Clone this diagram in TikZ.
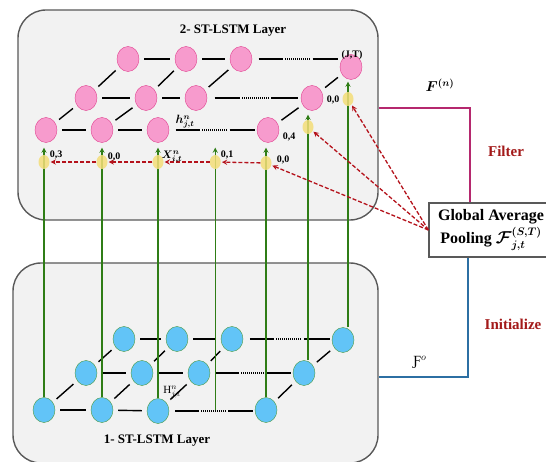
\documentclass[tikz,border=0pt]{standalone}
\usepackage{amsmath,amssymb,bm}
\usepackage{fontspec}
\setmainfont{Liberation Serif}
\usetikzlibrary{calc,shapes.geometric}

\definecolor{cellpink}{HTML}{F79BCD}
\definecolor{edgepink}{HTML}{E0408F}
\definecolor{cellblue}{HTML}{62C4F7}
\definecolor{edgeblue}{HTML}{4C9A3F}
\definecolor{layergray}{HTML}{F2F2F2}
\definecolor{feedgreen}{HTML}{2F7D16}
\definecolor{passred}{HTML}{B5121B}
\definecolor{gateyellow}{HTML}{F4DE78}
\definecolor{filtermag}{HTML}{B5286E}
\definecolor{initblue}{HTML}{2C6FA3}
\definecolor{wordred}{HTML}{A31A1A}

\begin{document}
\begin{tikzpicture}[x=1pt,y=-1pt,>=stealth,
  layerbox/.style={draw=black!65,line width=1.4pt,fill=layergray,rounded corners=28pt},
  pinkcell/.style={ellipse,draw=edgepink,fill=cellpink,minimum width=22pt,minimum height=25pt,inner sep=0pt},
  bluecell/.style={ellipse,draw=edgeblue,fill=cellblue,minimum width=22pt,minimum height=25pt,inner sep=0pt},
  gate/.style={ellipse,fill=gateyellow,fill opacity=0.85,minimum width=11pt,minimum height=14pt,inner sep=0pt},
  link/.style={line width=1.4pt,shorten >=5pt,shorten <=5pt},
  feed/.style={->,feedgreen,line width=1.2pt},
  pass/.style={->,passred,line width=1.3pt,dash pattern=on 4pt off 2pt,shorten >=1pt},
  tag/.style={font=\bfseries\fontsize{10}{11}\selectfont,inner sep=0pt}]
\useasboundingbox (0,0) rectangle (546,462);
\fill[white] (0,0) rectangle (546,462);

% the two layers
\node[layerbox,minimum width=360pt,minimum height=210pt] (layer2) at (198,115) {};
\node[layerbox,minimum width=365pt,minimum height=200pt] (layer1) at (195.5,363) {};
\node[font=\bfseries\fontsize{13}{15}\selectfont] (title2) at (233,31) {2- ST-LSTM Layer};
\node[font=\bfseries\fontsize{13}{15}\selectfont] (title1) at (157,441) {1- ST-LSTM Layer};

% upper grid
\node[pinkcell] (tf1) at (46,130) {};
\node[pinkcell] (tf2) at (102,130) {};
\node[pinkcell] (tf3) at (158,130) {};
\node[pinkcell] (tf4) at (268,130) {};
\node[pinkcell] (tm1) at (86,98) {};
\node[pinkcell] (tm2) at (146,98) {};
\node[pinkcell] (tm3) at (196,98) {};
\node[pinkcell] (tm4) at (312,98) {};
\node[pinkcell] (tb1) at (128,59) {};
\node[pinkcell] (tb2) at (186,59) {};
\node[pinkcell] (tb3) at (241,59) {};
\node[pinkcell] (tb4) at (351,67) {};

% lower grid
\node[bluecell] (bf1) at (44,410) {};
\node[bluecell] (bf2) at (102,410) {};
\node[bluecell] (bf3) at (158,411) {};
\node[bluecell] (bf4) at (266,410) {};
\node[bluecell] (bm1) at (86,373) {};
\node[bluecell] (bm2) at (142,373) {};
\node[bluecell] (bm3) at (199,373) {};
\node[bluecell] (bm4) at (304,373) {};
\node[bluecell] (bb1) at (124,339) {};
\node[bluecell] (bb2) at (177,339) {};
\node[bluecell] (bb3) at (232,339) {};
\node[bluecell] (bb4) at (343,340) {};

\foreach \a/\b in {tf1/tf2,tf2/tf3,tm1/tm2,tm2/tm3,tb1/tb2,tb2/tb3,
                   tf1/tm1,tf2/tm2,tf4/tm4,tm1/tb1,tm2/tb2,tm3/tb3,tm4/tb4,
                   bf1/bf2,bf2/bf3,bm1/bm2,bm2/bm3,bb1/bb2,bb2/bb3,
                   bf1/bm1,bf2/bm2,bf3/bm3,bf4/bm4,bm1/bb1,bm2/bb2,bm3/bb3,bm4/bb4}
  \draw[link] (\a) -- (\b);
\foreach \a/\b in {tf3/tf4,tm3/tm4,tb3/tb4,bf3/bf4,bm3/bm4,bb3/bb4}{
  \draw[line width=1.4pt] ($(\a)!0.16!(\b |- \a)$) -- ($(\a)!0.38!(\b |- \a)$);
  \draw[line width=1.2pt,dash pattern=on 1pt off 1pt] ($(\a)!0.40!(\b |- \a)$) -- ($(\a)!0.63!(\b |- \a)$);
  \draw[line width=1.4pt] ($(\a)!0.65!(\b |- \a)$) -- ($(\a)!0.88!(\b |- \a)$);
}

% feeds from layer 1 to layer 2
\coordinate (bmid) at ($(bf3)!0.53!(bf4)$);
\coordinate (r6) at ([xshift=4pt]bm4.north);
\coordinate (r7) at ([xshift=5pt]bb4.north);
\draw[feed,shorten >=5pt] (bf1.north) -- (bf1.north |- tf1.south);
\draw[feed,shorten >=5pt] (bf2.north) -- (bf2.north |- tf2.south);
\draw[feed,shorten >=5pt] (bf3.north) -- (bf3.north |- tf3.south);
\draw[feed,shorten >=5pt] (bmid) -- (bmid |- tf3.south);
\draw[feed,shorten >=5pt] (bf4.north) -- (bf4.north |- tf4.south);
\draw[feed,shorten >=4pt] (r6) -- (r6 |- tm4.south);
\draw[feed,shorten >=2pt] (r7) -- (r7 |- tb4.south);

% gates
\node[gate] (g1) at (bf1 |- 0,162) {};
\node[gate] (g2) at (bf2 |- 0,162) {};
\node[gate] (g3) at (bf3 |- 0,162) {};
\node[gate] (g4) at (bmid |- 0,162) {};
\node[gate] (g5) at (bf4 |- 0,163) {};
\node[gate] (g6) at (r6 |- 0,127) {};
\node[gate] (g7) at (r7 |- 0,99) {};

% pooling block
\node[draw=black!65,line width=1.2pt,fill=white,minimum width=124pt,minimum height=54pt,inner sep=2pt,
      align=center,font=\bfseries\fontsize{16}{23}\selectfont] (pool) at (491,230)
      {Global Average\\Pooling $\bm{\mathcal{F}}_{\bm{j,t}}^{\bm{(S,T)}}$};
\draw[pass] (g5) -- (g4);
\draw[pass] (g4) -- (g3);
\draw[pass] (g3) -- (g2);
\draw[pass] (g2) -- (g1);
\draw[pass] (pool.west) -- (g5);
\draw[pass] (pool.west) -- (g6);
\draw[pass] (pool.west) -- (g7);

\coordinate (fk) at (470,108);
\coordinate (ik) at (468,377);
\draw[filtermag,line width=1.2pt] (layer2.east |- fk) -- (fk) -- (fk |- pool.north);
\draw[initblue,line width=1.2pt] (ik |- pool.south) -- (ik) -- (ik -| layer1.east);

% labels
\node[tag] (ljt) at (352,55) {(J,T)};
\node[tag] (l00a) at (333,100) {0,0};
\node[tag] (l04) at (289,137) {0,4};
\node[tag] (l03) at (56,155) {0,3};
\node[tag] (l00b) at (114,157) {0,0};
\node[inner sep=0pt,font=\fontsize{11}{12}\selectfont] (lx) at (172,157) {$\bm{X_{i,t}^{n}}$};
\node[tag] (l01) at (227,155) {0,1};
\node[tag] (l00c) at (283,160) {0,0};
\node[inner sep=0pt,font=\fontsize{12}{13}\selectfont] (lh) at (185,122) {$\bm{h_{j,t}^{n}}$};
\node[inner sep=0pt,font=\fontsize{11}{12}\selectfont] (lH) at (172,392) {$\mathrm{H}_{j,t}^{n}$};
\node[inner sep=0pt,font=\fontsize{14}{15}\selectfont] (lF) at (440,85) {$\bm{F^{(n)}}$};
\node[inner sep=0pt,font=\fontsize{14}{15}\selectfont] (lFo) at (420,362) {Ƒ$^{o}$};
\node[text=wordred,font=\bfseries\fontsize{15}{16}\selectfont] (lfilter) at (506,151) {Filter};
\node[text=wordred,font=\bfseries\fontsize{15}{16}\selectfont] (linit) at (513,324) {Initialize};
\end{tikzpicture}
\end{document}
